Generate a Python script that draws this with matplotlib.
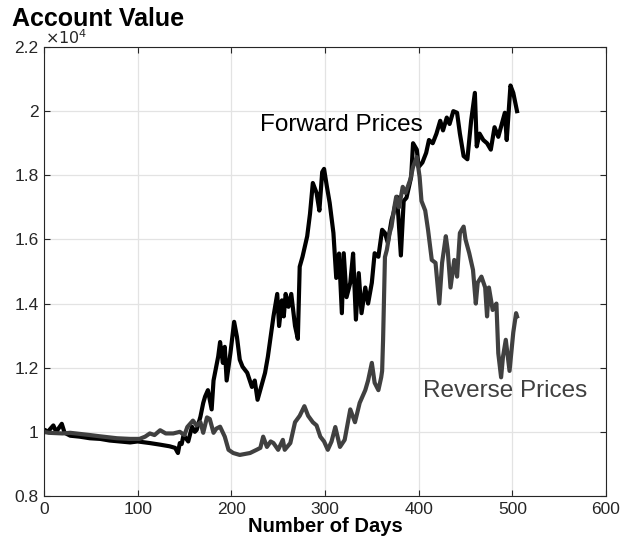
import numpy as np
import matplotlib
matplotlib.use("Agg")
import matplotlib.pyplot as plt
from matplotlib.ticker import FuncFormatter

plt.rcParams["font.family"] = ["Liberation Sans", "DejaVu Sans"]

# account value traces, in units of 1e4
fwd_days = [0, 1, 4, 10, 13, 19, 22, 28, 38, 49, 60, 70, 81, 92, 100, 113, 124, 134, 140,
            143, 145, 147, 149, 154, 158, 161, 163, 167, 170, 172, 175, 179, 181, 186, 188,
            191, 193, 195, 199, 203, 206, 209, 212, 217, 222, 225, 228, 233, 236, 239, 245,
            249, 251, 254, 256, 258, 261, 264, 268, 271, 273, 276, 281, 284, 287, 291, 294,
            297, 299, 302, 305, 309, 312, 315, 318, 320, 323, 327, 330, 333, 336, 339, 343,
            346, 350, 353, 357, 361, 364, 367, 371, 373, 377, 381, 384, 387, 392, 394, 398,
            400, 404, 408, 411, 415, 419, 423, 426, 430, 433, 437, 441, 444, 448, 452, 456,
            460, 462, 465, 469, 473, 477, 481, 485, 489, 492, 494, 498, 501, 505]
fwd_value = [1.0, 1.006, 1.0, 1.02, 1.0, 1.025, 0.997, 0.988, 0.985, 0.98, 0.978, 0.973,
             0.97, 0.967, 0.97, 0.965, 0.96, 0.955, 0.95, 0.934, 0.965, 0.962, 0.99, 0.97,
             1.016, 1.0, 1.006, 1.047, 1.09, 1.11, 1.13, 1.07, 1.16, 1.235, 1.28, 1.215,
             1.265, 1.16, 1.245, 1.343, 1.296, 1.225, 1.203, 1.184, 1.14, 1.16, 1.10, 1.153,
             1.184, 1.234, 1.36, 1.43, 1.33, 1.41, 1.36, 1.43, 1.39, 1.43, 1.33, 1.29, 1.515,
             1.546, 1.61, 1.68, 1.776, 1.745, 1.69, 1.81, 1.82, 1.765, 1.714, 1.62, 1.48,
             1.556, 1.37, 1.557, 1.42, 1.465, 1.556, 1.35, 1.495, 1.37, 1.45, 1.40, 1.465,
             1.557, 1.546, 1.63, 1.62, 1.59, 1.66, 1.68, 1.733, 1.55, 1.72, 1.73, 1.795,
             1.90, 1.88, 1.826, 1.84, 1.87, 1.91, 1.90, 1.93, 1.97, 1.94, 1.98, 1.96, 2.00,
             1.995, 1.93, 1.86, 1.85, 1.97, 2.057, 1.89, 1.93, 1.91, 1.90, 1.88, 1.95, 1.92,
             1.963, 1.995, 1.91, 2.08, 2.057, 2.0]

rev_days = [0, 5, 20, 28, 49, 60, 78, 92, 102, 108, 113, 118, 124, 130, 138, 145, 150, 153,
            159, 163, 167, 170, 174, 177, 181, 184, 188, 193, 197, 202, 209, 220, 227, 231,
            234, 238, 242, 245, 250, 255, 257, 263, 268, 273, 278, 282, 287, 291, 295, 299,
            303, 307, 311, 316, 321, 327, 332, 337, 343, 346, 350, 353, 357, 360, 361, 362,
            364, 366, 369, 371, 374, 376, 379, 383, 386, 391, 394, 398, 401, 403, 407, 410,
            414, 418, 422, 425, 429, 431, 434, 438, 441, 444, 448, 450, 454, 458, 461, 463,
            467, 471, 473, 475, 479, 483, 485, 488, 490, 493, 497, 501, 504, 505]
rev_value = [1.0, 0.997, 0.995, 0.997, 0.99, 0.986, 0.98, 0.978, 0.978, 0.985, 0.995, 0.99,
             1.005, 0.995, 0.995, 1.0, 0.99, 1.015, 1.035, 1.02, 1.03, 0.997, 1.045, 1.04,
             0.997, 1.01, 1.016, 0.985, 0.944, 0.934, 0.928, 0.934, 0.944, 0.95, 0.985,
             0.953, 0.97, 0.965, 0.944, 0.975, 0.944, 0.965, 1.03, 1.05, 1.08, 1.05, 1.03,
             1.02, 0.985, 0.97, 0.944, 0.97, 1.015, 0.953, 0.975, 1.07, 1.03, 1.09, 1.13,
             1.16, 1.215, 1.153, 1.13, 1.17, 1.19, 1.287, 1.545, 1.567, 1.62, 1.64, 1.70,
             1.733, 1.70, 1.764, 1.745, 1.786, 1.826, 1.857, 1.795, 1.72, 1.69, 1.63, 1.536,
             1.527, 1.40, 1.527, 1.61, 1.567, 1.45, 1.536, 1.484, 1.62, 1.64, 1.60, 1.557,
             1.505, 1.40, 1.465, 1.484, 1.45, 1.36, 1.45, 1.38, 1.40, 1.245, 1.17, 1.234,
             1.287, 1.19, 1.31, 1.37, 1.36]

x_ticks = [0, 100, 200, 300, 400, 500, 600]
y_ticks = [0.8, 1.0, 1.2, 1.4, 1.6, 1.8, 2.0, 2.2]

fwd = np.array(fwd_value) * 1e4
rev = np.array(rev_value) * 1e4

fig = plt.figure(figsize=(6.31, 5.43), dpi=100)
ax = fig.add_axes([0.0697, 0.0866, 0.8907, 0.8268])

ax.plot(fwd_days, fwd, color="black", lw=3.0, solid_joinstyle="round")
ax.plot(rev_days, rev, color="#404040", lw=3.0, solid_joinstyle="round")

ax.set_xlim(0, 600)
ax.set_ylim(0.8e4, 2.2e4)
ax.set_xticks(x_ticks)
ax.set_yticks([v * 1e4 for v in y_ticks])
ax.yaxis.set_major_formatter(FuncFormatter(lambda v, p: f"{v / 1e4:g}"))
ax.grid(True, color="#e3e3e3", lw=0.9)
ax.set_axisbelow(True)
ax.tick_params(direction="in", length=4, colors="#262626", labelsize=12.5,
               top=True, right=True, pad=4)
for s in ax.spines.values():
    s.set_color("#262626")
    s.set_linewidth(0.8)

ax.set_xlabel("Number of Days", fontsize=14.5, fontweight="bold", labelpad=0)
ax.text(0.002, 0.999, r"$\times10^{4}$", transform=ax.transAxes, fontsize=11.5,
        color="#262626", ha="left", va="bottom")
fig.text(0.019, 0.988, "Account Value", fontsize=18, fontweight="bold", ha="left", va="top")

ax.text(318, 1.957e4, "Forward Prices", fontsize=17.5, ha="center", va="center", color="black")
ax.text(492, 1.128e4, "Reverse Prices", fontsize=17.5, ha="center", va="center", color="#404040")

fig.savefig("out.png", dpi=100)
